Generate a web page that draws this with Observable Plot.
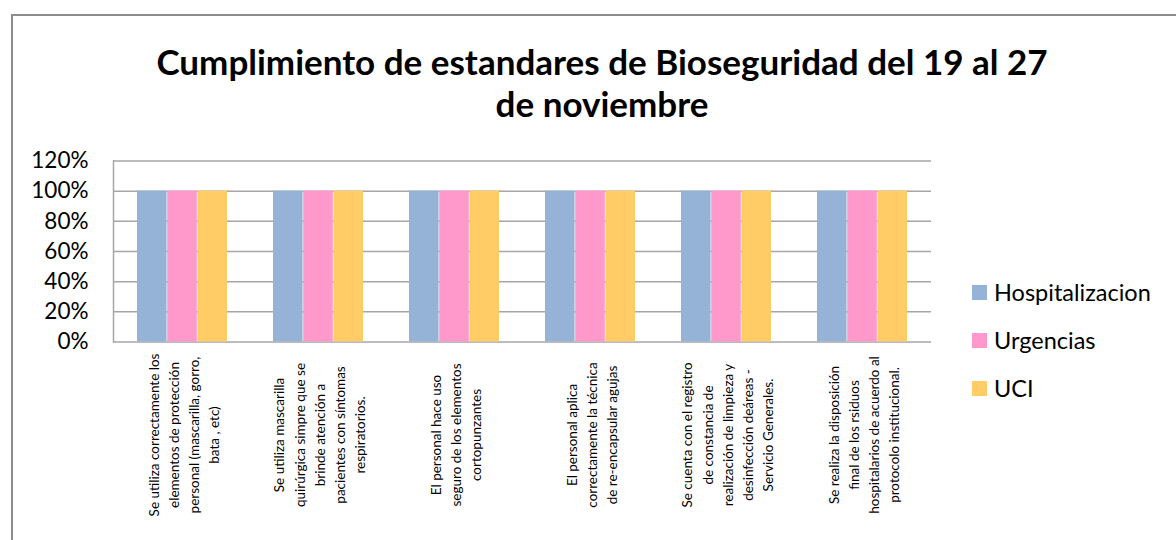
<!DOCTYPE html>
<html>
<head>
<meta charset="utf-8">
<script src="https://cdn.jsdelivr.net/npm/d3@7"></script>
<script src="https://cdn.jsdelivr.net/npm/@observablehq/plot@0.6"></script>
<style>
  html, body { margin: 0; padding: 0; background: #fff; overflow: hidden; }
  #page { position: relative; width: 1176px; height: 540px; overflow: hidden; font-family: Lato, "Open Sans", sans-serif; }
  #border { position: absolute; left: 11px; top: 14px; width: 1300px; height: 700px; border: 2px solid #8c8c8c; box-sizing: border-box; }
  #title { position: absolute; left: 0; width: 1204px; top: 40px; text-align: center; font-weight: bold; font-size: 35px; line-height: 42px; color: #000; font-family: Lato, sans-serif; }
  #chart { position: absolute; left: 0; top: 140px; }
  #legend { position: absolute; left: 972px; top: 268px; }
  .lg-swatches { font-family: Lato, sans-serif !important; font-size: 23.5px !important; color: #000; margin: 0 !important; }
  .lg-swatch { height: 48px; display: flex !important; align-items: center; padding: 0 !important; }
  .lg-swatch svg { margin-right: 7px !important; }
</style>
</head>
<body>
<div id="page">
  <div id="border"></div>
  <div id="title">Cumplimiento de estandares de Bioseguridad del 19 al 27<br>de noviembre</div>
  <div id="chart"></div>
  <div id="legend"></div>
</div>
<script>
const categories = [
  "Se utiliza correctamente los\nelementos de protección\npersonal (mascarilla, gorro,\nbata , etc)",
  "Se utiliza mascarilla\nquirúrgica simpre que se\nbrinde atención a\npacientes con síntomas\nrespiratorios.",
  "El personal hace uso\nseguro de los elementos\ncortopunzantes",
  "El personal aplica\ncorrectamente la técnica\nde re-encapsular agujas",
  "Se cuenta con el registro\nde constancia de\nrealización de limpieza y\ndesinfección deáreas -\nServicio Generales.",
  "Se realiza la disposición\nfinal de los rsiduos\nhospitalarios de acuerdo al\nprotocolo institucional."
];
const series = ["Hospitalizacion", "Urgencias", "UCI"];
const hospitalizacion = [100, 100, 100, 100, 100, 100];
const urgencias = [100, 100, 100, 100, 100, 100];
const uci = [100, 100, 100, 100, 100, 100];
const colors = ["#95B3D7", "#FF99CC", "#FFCC66"];
const yTicks = [0, 20, 40, 60, 80, 100, 120];

const valuesBySeries = [hospitalizacion, urgencias, uci];
const rows = [];
series.forEach((s, i) => categories.forEach((c, j) => rows.push({cat: c, series: s, value: valuesBySeries[i][j]})));

const W = 1176, H = 400;
const mL = 113, mR = W - 931, mT = 20.5, mB = H - 201.5;
const xOpts = {type: "band", domain: categories, paddingInner: 0.335, paddingOuter: 0.1675};
const xs = Plot.scale({x: {...xOpts, range: [mL, W - mR]}});
const bw = xs.bandwidth;

const barMarks = series.map((s, i) => Plot.barY(rows.filter(r => r.series === s), {
  x: "cat", y: "value", fill: "series",
  insetLeft: i * bw / 3, insetRight: (2 - i) * bw / 3
}));

const chart = Plot.plot({
  width: W, height: H,
  marginLeft: mL, marginRight: mR, marginTop: mT, marginBottom: mB,
  style: {fontFamily: "Lato, sans-serif", background: "transparent"},
  x: {...xOpts, axis: null},
  y: {domain: [0, 120], ticks: yTicks, tickFormat: d => d + "%", tickSize: 0, tickPadding: 25, label: null, fontSize: 22.5},
  color: {domain: series, range: colors},
  marks: [
    Plot.ruleY(yTicks, {stroke: "#a6a6a6", strokeWidth: 1.5}),
    Plot.frame({anchor: "left", stroke: "#a6a6a6", strokeWidth: 1.5}),
    ...barMarks,
    Plot.text(categories, {
      x: d => d, text: d => d, frameAnchor: "bottom", dy: 93,
      rotate: -90, textAnchor: "middle", lineAnchor: "middle",
      lineHeight: 1.5, fontSize: 13.5, fill: "#000"
    })
  ]
});
chart.querySelectorAll("g[aria-label='y-axis tick label'] text, g[aria-label='y-axis'] text").forEach(t => t.setAttribute("font-size", "22.5"));
document.getElementById("chart").appendChild(chart);

const legend = Plot.legend({color: {domain: series, range: colors}, legend: "swatches", columns: 1, swatchSize: 15, className: "lg"});
document.getElementById("legend").appendChild(legend);
</script>
</body>
</html>
